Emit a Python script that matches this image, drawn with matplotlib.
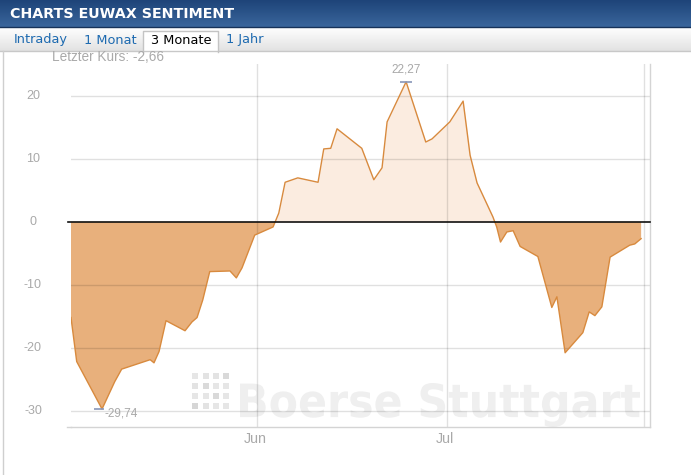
import matplotlib
matplotlib.use("Agg")
import matplotlib.pyplot as plt
import numpy as np
from matplotlib.patches import Rectangle, PathPatch
from matplotlib.lines import Line2D
from matplotlib.colors import LinearSegmentedColormap
from matplotlib.textpath import TextPath
from matplotlib.font_manager import FontProperties
from matplotlib.transforms import Affine2D, blended_transform_factory

# ---------------- data ----------------
# days relative to 1 June
days = [-29.4, -28.5, -24.5, -22.5, -21.4, -16.9, -16.3, -15.5, -14.4, -11.4,
        -10.3, -9.5, -8.6, -7.5, -4.3, -3.3, -2.4, -0.4, 2.5, 3.4,
        4.4, 6.4, 9.6, 10.5, 11.6, 12.6, 16.5, 18.4, 19.7, 20.5,
        23.5, 26.6, 27.6, 30.4, 32.5, 33.6, 34.7, 37.2, 37.8, 38.4,
        39.4, 40.4, 41.5, 44.3, 46.5, 47.3, 48.6, 51.4, 52.4, 53.3,
        54.4, 55.7, 58.8, 59.6, 60.6]
values = [-15.2, -22.2, -29.74, -25.4, -23.4, -21.9, -22.4, -20.6, -15.7, -17.3,
          -15.9, -15.2, -12.4, -7.9, -7.8, -8.9, -7.3, -2.1, -0.8, 1.4,
          6.3, 7.0, 6.3, 11.6, 11.7, 14.8, 11.7, 6.7, 8.6, 15.9,
          22.27, 12.7, 13.2, 15.9, 19.2, 10.6, 6.2, 0.8, -0.8, -3.2,
          -1.6, -1.4, -3.9, -5.5, -13.6, -11.9, -20.8, -17.6, -14.3, -14.9,
          -13.5, -5.6, -3.7, -3.5, -2.66]
month_ticks = [0, 30, 61]
month_labels = ["Jun", "Jul", ""]
y_ticks = [20, 10, 0, -10, -20, -30]
max_label = "22,27"
min_label = "-29,74"
title = "CHARTS EUWAX SENTIMENT"
tabs = ["Intraday", "1 Monat", "3 Monate", "1 Jahr"]
tab_x = [14, 84, 151, 226]
last_label = "Letzter Kurs: -2,66"
watermark = "Boerse Stuttgart"

W, H = 691, 475
fig = plt.figure(figsize=(W / 100, H / 100), dpi=100)
fig.patch.set_facecolor("white")


def fx(x):
    return x / W


def fy(y):
    return 1 - y / H


# ---------------- header ----------------
hax = fig.add_axes([0, fy(27), 1, 27 / H])
hcm = LinearSegmentedColormap.from_list("h", ["#1e4479", "#3a669c"])
hax.imshow(np.linspace(0, 1, 60)[:, None], aspect="auto", cmap=hcm,
           extent=[0, 1, 0, 1])
hax.set_xlim(0, 1)
hax.set_ylim(0, 1)
hax.axis("off")
fig.add_artist(Line2D([0, 1], [fy(26.5), fy(26.5)], color="#163259", lw=1))
fig.text(fx(10), fy(14), title, color="white", fontsize=10.3, weight="bold",
         family="DejaVu Sans", va="center", ha="left")

# tab bar
tax = fig.add_axes([0, fy(51), 1, 24 / H])
tcm = LinearSegmentedColormap.from_list("t", ["#ffffff", "#e2e2e2"])
tax.imshow(np.linspace(0, 1, 60)[:, None], aspect="auto", cmap=tcm,
           extent=[0, 1, 0, 1])
tax.set_xlim(0, 1)
tax.set_ylim(0, 1)
tax.axis("off")
fig.add_artist(Line2D([0, 1], [fy(51), fy(51)], color="#c8c8c8", lw=1))
# active tab
fig.add_artist(Rectangle((fx(143), fy(52)), fx(218) - fx(143), (52 - 31) / H,
                         facecolor="white", edgecolor="none"))
fig.add_artist(Line2D([fx(143), fx(143), fx(218), fx(218)],
                      [fy(52), fy(31), fy(31), fy(52)], color="#c4c4c4", lw=1))
for i, (t, x) in enumerate(zip(tabs, tab_x)):
    fig.text(fx(x), fy(40), t, fontsize=9.3, family="DejaVu Sans",
             color="#000000" if i == 2 else "#1d6ab0", va="center", ha="left")

# left border
fig.add_artist(Line2D([fx(3), fx(3)], [fy(51), 0], color="#cfcfcf", lw=1))

# ---------------- chart ----------------
ax = fig.add_axes([fx(71), fy(427), fx(650) - fx(71), (427 - 64) / H])
ax.set_xlim(-29.4, 62.0)
ax.set_ylim(-32.6, 25.1)
ax.patch.set_alpha(0)
for s in ["top", "left"]:
    ax.spines[s].set_visible(False)
for s in ["bottom", "right"]:
    ax.spines[s].set_color("#d4d4d4")
    ax.spines[s].set_linewidth(1)
ax.tick_params(length=0, labelleft=False, labelbottom=False)
ax.set_xticks([])
ax.set_yticks([])

for v in y_ticks:
    if v != 0:
        ax.axhline(v, color="black", alpha=0.12, lw=1, zorder=2.5)
for m in month_ticks:
    ax.axvline(m, color="black", alpha=0.12, lw=1, zorder=2.5)

# watermark text
fp = FontProperties(family="DejaVu Sans", weight="bold")
tp = TextPath((0, 0), watermark, size=1, prop=fp)
bb = tp.get_extents()
x0, x1, ytop, ybot = 240, 640, 383, 427
tr = (Affine2D().translate(-bb.x0, -bb.y0)
      .scale((x1 - x0) / bb.width / W, (ybot - ytop) / bb.height / H)
      .translate(fx(x0), fy(ybot)) + fig.transFigure)
fig.add_artist(PathPatch(tp, transform=tr, facecolor="#efefef",
                         edgecolor="none", zorder=-1))
# watermark logo dots
shades = ["#e6e6e6", "#e3e3e3", "#e3e3e3", "#d9d9d9",
          "#e3e3e3", "#dadada", "#e6e6e6", "#e6e6e6",
          "#e6e6e6", "#e6e6e6", "#d9d9d9", "#e6e6e6",
          "#d6d6d6", "#e3e3e3", "#e6e6e6", "#e6e6e6"]
for r in range(4):
    for c in range(4):
        fig.add_artist(Rectangle((fx(192 + c * 10.5), fy(379 + r * 10)),
                                 6 / W, 6 / H, facecolor=shades[r * 4 + c],
                                 edgecolor="none", zorder=-1))

d = np.array(days)
v = np.array(values)
ax.fill_between(d, v, 0, where=v >= 0, interpolate=True, color="#fbece0",
                lw=0, zorder=2)
ax.fill_between(d, v, 0, where=v <= 0, interpolate=True, color="#e8b07c",
                lw=0, zorder=2)
ax.plot(d, v, color="#d88a3e", lw=1, zorder=3)
# zero line
ax.add_line(Line2D([-0.006, 1.0], [0, 0], color="#111111", lw=1.2,
                   transform=blended_transform_factory(ax.transAxes, ax.transData),
                   clip_on=False, zorder=4))
# bottom line extends slightly left
ax.add_line(Line2D([-0.007, 0], [0, 0], color="#d4d4d4", lw=1,
                   transform=ax.transAxes, clip_on=False))

# max / min annotations
imax = int(np.argmax(v))
imin = int(np.argmin(v))
ax.plot([d[imax]], [v[imax]], marker="_", ms=8, mew=1.2, color="#8796b8", zorder=5)
ax.annotate(max_label, (d[imax], v[imax]), xytext=(0, 8.6), textcoords="offset points",
            ha="center", va="center", fontsize=8.5, color="#a8a8a8",
            family="Liberation Sans")
ax.plot([d[imin] - 0.5], [v[imin]], marker="_", ms=7, mew=1.2, color="#8796b8", zorder=5)
ax.annotate(min_label, (d[imin], v[imin]), xytext=(1.5, -3), textcoords="offset points",
            ha="left", va="center", fontsize=8.5, color="#a8a8a8",
            family="Liberation Sans")

# y labels centred at x=33 px
ytr = blended_transform_factory(fig.transFigure, ax.transData)
for t in y_ticks:
    ax.text(fx(33), t, str(t), transform=ytr, ha="center", va="center",
            fontsize=9, color="#a9a9a9", family="Liberation Sans")
# month labels
xtr = blended_transform_factory(ax.transData, fig.transFigure)
for m, lab in zip(month_ticks, month_labels):
    ax.text(m - 0.3, fy(439), lab, transform=xtr, ha="center", va="center",
            fontsize=10.3, color="#a9a9a9", family="Liberation Sans")

fig.text(fx(52), fy(57), last_label, fontsize=9.8, color="#aaaaaa",
         family="Liberation Sans", ha="left", va="center")

fig.savefig("out.png", dpi=100)
